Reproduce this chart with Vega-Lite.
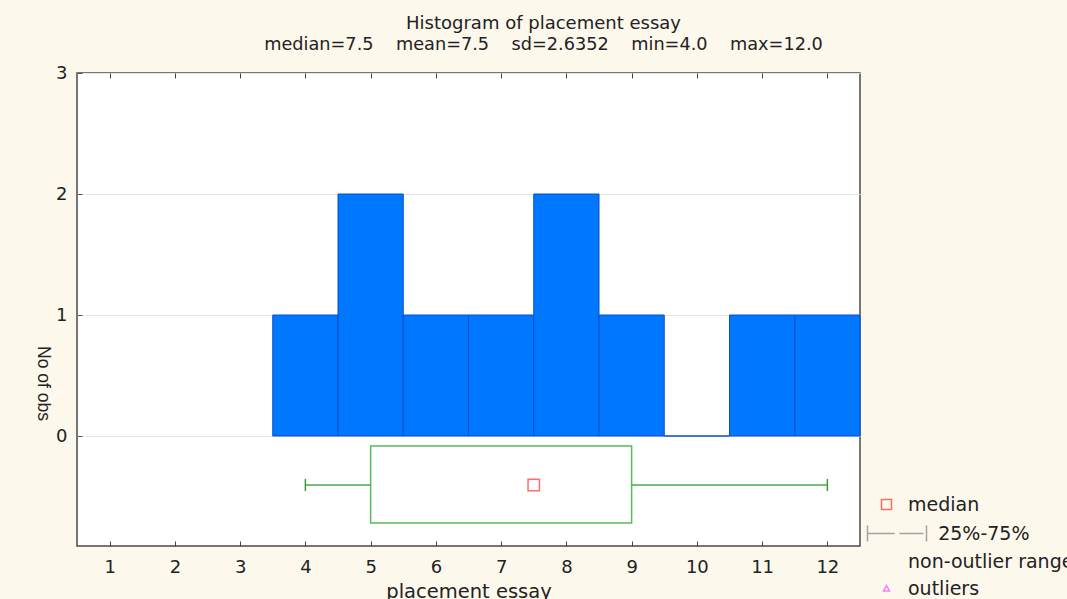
{
  "$schema": "https://vega.github.io/schema/vega-lite/v6.json",
  "width": 783,
  "height": 473,
  "autosize": {"type": "none"},
  "padding": {"left": 77, "top": 73, "right": 207, "bottom": 53},
  "background": "#fdf8ec",
  "config": {
    "view": {"fill": "white", "stroke": "#4a4a4a", "strokeWidth": 1.5},
    "font": "DejaVu Sans"
  },
  "title": {
    "text": "Histogram of placement essay",
    "subtitle": "median=7.5\u00a0\u00a0\u00a0 mean=7.5\u00a0\u00a0\u00a0 sd=2.6352\u00a0\u00a0\u00a0 min=4.0\u00a0\u00a0\u00a0 max=12.0",
    "anchor": "middle",
    "dx": 75,
    "offset": 10,
    "font": "DejaVu Sans",
    "fontSize": 18,
    "fontWeight": "normal",
    "color": "#222222",
    "subtitleFont": "DejaVu Sans",
    "subtitleFontSize": 17.7,
    "subtitleColor": "#222222",
    "subtitlePadding": 3
  },
  "datasets": {
    "bins": [
      {"lo": 3.5, "hi": 4.5, "n": 1},
      {"lo": 4.5, "hi": 5.5, "n": 2},
      {"lo": 5.5, "hi": 6.5, "n": 1},
      {"lo": 6.5, "hi": 7.5, "n": 1},
      {"lo": 7.5, "hi": 8.5, "n": 2},
      {"lo": 8.5, "hi": 9.5, "n": 1},
      {"lo": 9.5, "hi": 10.5, "n": 0},
      {"lo": 10.5, "hi": 11.5, "n": 1},
      {"lo": 11.5, "hi": 12.5, "n": 1}
    ],
    "box": [{"min": 4, "q1": 5, "median": 7.5, "q3": 9, "max": 12}],
    "mid": [{"stat": "median", "value": 7.5}]
  },
  "layer": [
    {
      "data": {"name": "bins"},
      "mark": {"type": "rect", "fill": "#0077ff", "stroke": "#0a4fc8", "strokeWidth": 1},
      "encoding": {
        "x": {
          "field": "lo",
          "type": "quantitative",
          "scale": {"domain": [0.5, 12.5], "nice": false, "zero": false},
          "axis": {
            "orient": "bottom",
            "values": [1, 2, 3, 4, 5, 6, 7, 8, 9, 10, 11, 12],
            "format": "d",
            "title": "placement essay",
            "grid": false,
            "domain": false,
            "tickSize": -5,
            "tickColor": "#444444",
            "labelFont": "DejaVu Sans",
            "labelFontSize": 18,
            "labelColor": "#222222",
            "labelPadding": 17,
            "titleFont": "DejaVu Sans",
            "titleFontSize": 19.5,
            "titleFontWeight": "normal",
            "titleColor": "#222222",
            "titlePadding": 6
          }
        },
        "x2": {"field": "hi"},
        "y": {
          "field": "n",
          "type": "quantitative",
          "scale": {"domain": [-0.909, 3], "nice": false, "zero": false},
          "axis": {
            "orient": "left",
            "values": [0, 1, 2, 3],
            "format": "d",
            "title": "No of obs",
            "grid": true,
            "gridColor": "#e4e4e4",
            "domain": false,
            "tickSize": -5,
            "tickColor": "#555555",
            "labelFont": "DejaVu Sans",
            "labelFontSize": 18,
            "labelColor": "#222222",
            "labelPadding": 15,
            "titleFont": "Liberation Sans",
            "titleFontSize": 17.5,
            "titleFontWeight": "normal",
            "titleColor": "#222222",
            "titleAngle": 90,
            "titleX": -35,
            "titleY": 310,
            "titleAlign": "center",
            "titleBaseline": "middle"
          }
        },
        "y2": {"datum": 0}
      }
    },
    {
      "data": {"name": "box"},
      "mark": {"type": "rect", "fill": "white", "stroke": "#5cb85c", "strokeWidth": 1.5},
      "encoding": {
        "x": {
          "field": "q1",
          "type": "quantitative",
          "axis": {
            "orient": "top",
            "values": [1, 2, 3, 4, 5, 6, 7, 8, 9, 10, 11, 12],
            "labels": false,
            "title": null,
            "grid": false,
            "domain": false,
            "tickSize": -5,
            "tickColor": "#444444"
          }
        },
        "x2": {"field": "q3"},
        "y": {"datum": -0.083},
        "y2": {"datum": -0.719}
      }
    },
    {
      "data": {"name": "box"},
      "mark": {"type": "rule", "stroke": "#4aa84a", "strokeWidth": 1.5},
      "encoding": {
        "x": {"field": "min", "type": "quantitative", "axis": null},
        "x2": {"field": "q1"},
        "y": {"datum": -0.405}
      }
    },
    {
      "data": {"name": "box"},
      "mark": {"type": "rule", "stroke": "#4aa84a", "strokeWidth": 1.5},
      "encoding": {
        "x": {"field": "q3", "type": "quantitative", "axis": null},
        "x2": {"field": "max"},
        "y": {"datum": -0.405}
      }
    },
    {
      "data": {"name": "box"},
      "mark": {"type": "rule", "stroke": "#3c9a3c", "strokeWidth": 1.5},
      "encoding": {
        "x": {"field": "min", "type": "quantitative", "axis": null},
        "y": {"datum": -0.355},
        "y2": {"datum": -0.455}
      }
    },
    {
      "data": {"name": "box"},
      "mark": {"type": "rule", "stroke": "#3c9a3c", "strokeWidth": 1.5},
      "encoding": {
        "x": {"field": "max", "type": "quantitative", "axis": null},
        "y": {"datum": -0.355},
        "y2": {"datum": -0.455}
      }
    },
    {
      "data": {"name": "mid"},
      "mark": {"type": "point", "filled": false, "size": 130, "strokeWidth": 1.5},
      "encoding": {
        "x": {"field": "value", "type": "quantitative", "axis": null},
        "y": {"datum": -0.405},
        "shape": {
          "field": "stat",
          "type": "nominal",
          "scale": {
            "domain": ["median", "\u200b\u00a0\u00a0\u00a0\u00a0\u00a025%-75%", "non-outlier range", "outliers"],
            "range": [
              "square",
              "M-3.8,-1.6V1.6M-3.8,0H1.6M2.6,0H7.4M8,-1.6V1.6",
              "M0,0",
              "M0,-0.6L0.6,0.5H-0.6Z"
            ]
          },
          "legend": null
        },
        "color": {
          "field": "stat",
          "type": "nominal",
          "scale": {
            "domain": ["median", "\u200b\u00a0\u00a0\u00a0\u00a0\u00a025%-75%", "non-outlier range", "outliers"],
            "range": ["#ff3030", "#808080", "rgba(0,0,0,0)", "#ff44ff"]
          },
          "legend": {
            "orient": "none",
            "legendX": 800,
            "legendY": 422,
            "title": null,
            "padding": 0,
            "rowPadding": 7,
            "symbolSize": 100,
            "symbolStrokeWidth": 1.5,
            "labelOffset": 12,
            "labelFont": "DejaVu Sans",
            "labelFontSize": 19,
            "labelColor": "#222222",
            "labelLimit": 300
          }
        }
      }
    }
  ]
}
